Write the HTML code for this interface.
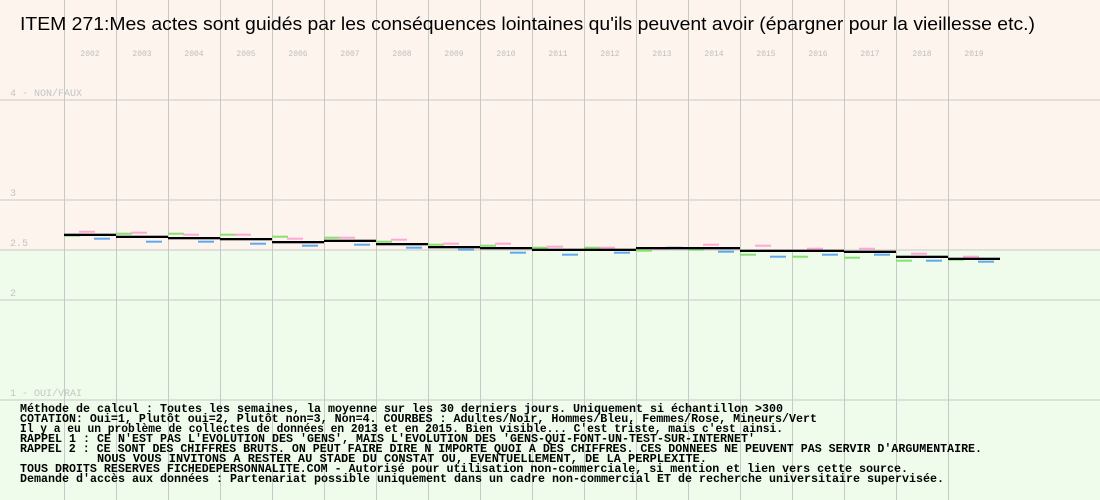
<!DOCTYPE html>
<html><head><meta charset="utf-8">
<style>
html,body{margin:0;padding:0;background:#fdf4ee;}
svg{display:block;}
.mono{font-family:"Liberation Mono",monospace;}
</style></head>
<body>
<svg id="chart" width="1100" height="500" xmlns="http://www.w3.org/2000/svg">
<rect x="0" y="0" width="1100" height="250" fill="#fdf4ee"/>
<rect x="0" y="250" width="1100" height="250" fill="#effcec"/>
<g id="grid"></g>
<g id="ylabels" class="mono" font-size="10" fill="#c4c4c4"></g>
<g id="xlabels" class="mono" font-size="8" fill="#bdbdbd"></g>
<g id="marks"></g>
<text x="20" y="30" font-family="Liberation Sans, sans-serif" font-size="18" fill="#000" textLength="1015" lengthAdjust="spacingAndGlyphs">ITEM 271:Mes actes sont guidés par les conséquences lointaines qu'ils peuvent avoir (épargner pour la vieillesse etc.)</text>
<g class="mono" font-size="11.5" font-weight="bold" fill="#000">
<text x="20" y="412" textLength="763" lengthAdjust="spacingAndGlyphs">Méthode de calcul : Toutes les semaines, la moyenne sur les 30 derniers jours. Uniquement si échantillon &gt;300</text>
<text x="20" y="422" textLength="797" lengthAdjust="spacingAndGlyphs">COTATION: Oui=1, Plutôt oui=2, Plutôt non=3, Non=4. COURBES : Adultes/Noir, Hommes/Bleu, Femmes/Rose, Mineurs/Vert</text>
<text x="20" y="432" textLength="763" lengthAdjust="spacingAndGlyphs">Il y a eu un problème de collectes de données en 2013 et en 2015. Bien visible... C'est triste, mais c'est ainsi.</text>
<text x="20" y="442" textLength="735" lengthAdjust="spacingAndGlyphs">RAPPEL 1 : CE N'EST PAS L'EVOLUTION DES 'GENS', MAIS L'EVOLUTION DES 'GENS-QUI-FONT-UN-TEST-SUR-INTERNET'</text>
<text x="20" y="452" textLength="962" lengthAdjust="spacingAndGlyphs">RAPPEL 2 : CE SONT DES CHIFFRES BRUTS. ON PEUT FAIRE DIRE N IMPORTE QUOI A DES CHIFFRES. CES DONNEES NE PEUVENT PAS SERVIR D'ARGUMENTAIRE.</text>
<text x="97" y="462" textLength="610" lengthAdjust="spacingAndGlyphs">NOUS VOUS INVITONS A RESTER AU STADE DU CONSTAT OU, EVENTUELLEMENT,  DE LA PERPLEXITE.</text>
<text x="20" y="472" textLength="888" lengthAdjust="spacingAndGlyphs">TOUS DROITS RESERVES FICHEDEPERSONNALITE.COM - Autorisé pour utilisation non-commerciale, si mention et lien vers cette source.</text>
<text x="20" y="482" textLength="924" lengthAdjust="spacingAndGlyphs">Demande d'accès aux données : Partenariat possible uniquement dans un cadre non-commercial ET de recherche universitaire supervisée.</text>
</g>
</svg>
<script>
const years = [2002,2003,2004,2005,2006,2007,2008,2009,2010,2011,2012,2013,2014,2015,2016,2017,2018,2019];
const adults = [2.653,2.633,2.62,2.61,2.58,2.593,2.56,2.53,2.52,2.503,2.503,2.52,2.52,2.493,2.493,2.483,2.433,2.413];
const minors = [2.643,2.663,2.663,2.653,2.633,2.623,2.583,2.553,2.543,2.523,2.523,2.493,2.503,2.453,2.433,2.423,2.393,2.403];
const women = [2.683,2.673,2.653,2.653,2.613,2.623,2.603,2.563,2.563,2.533,2.523,2.513,2.553,2.543,2.513,2.513,2.463,2.433];
const men = [2.613,2.583,2.583,2.563,2.543,2.553,2.523,2.503,2.473,2.453,2.473,2.523,2.483,2.433,2.453,2.453,2.393,2.383];
const yTicks = [4,3,2.5,2,1];
const yTickLabels = ["4 - NON/FAUX","3","2.5","2","1 - OUI/VRAI"];

const NS = "http://www.w3.org/2000/svg";
const x0 = 64, colW = 52;
function yScale(v){ return 400 - (v - 1) * 100; }
function xScale(i){ return x0 + i * colW; }
function mk(tag, attrs, parent){ const e = document.createElementNS(NS, tag); for (const k in attrs) e.setAttribute(k, attrs[k]); parent.appendChild(e); return e; }

const grid = document.getElementById('grid');
yTicks.forEach(t => {
  const l = mk('line', {x1:0, x2:1100, y1:yScale(t), y2:yScale(t), stroke:'#c8c8c8', 'stroke-width':1}, grid);
  
  
});
years.forEach((yr, i) => {
  const l = mk('line', {x1:xScale(i)+0.5, x2:xScale(i)+0.5, y1:0, y2:500, stroke:'#c8c8c8', 'stroke-width':1}, grid);
  
  
});

const yl = document.getElementById('ylabels');
yTicks.forEach((t, i) => {
  const tx = mk('text', {x:10, y:yScale(t)-4}, yl);
  tx.textContent = yTickLabels[i];
  
  
});
const xl = document.getElementById('xlabels');
years.forEach((yr, i) => {
  const tx = mk('text', {x:xScale(i)+colW/2, y:56, 'text-anchor':'middle'}, xl);
  tx.textContent = yr;
  
  
});

const marks = document.getElementById('marks');
years.forEach((yr, i) => {
  const x = xScale(i);
  const g = mk('rect', {x:x, y:yScale(minors[i])-1, width:16, height:2, fill:'#88e070'}, marks);
  
  
  const p = mk('rect', {x:x+15, y:yScale(women[i])-1, width:16, height:2, fill:'#ffa8d8'}, marks);
  
  
  const b = mk('rect', {x:x+30, y:yScale(men[i])-1, width:16, height:2, fill:'#60a8f0'}, marks);
  
  
  const k = mk('rect', {x:x, y:yScale(adults[i])-1, width:colW, height:2.3, fill:'#000'}, marks);
  
  
});
</script>
</body></html>
